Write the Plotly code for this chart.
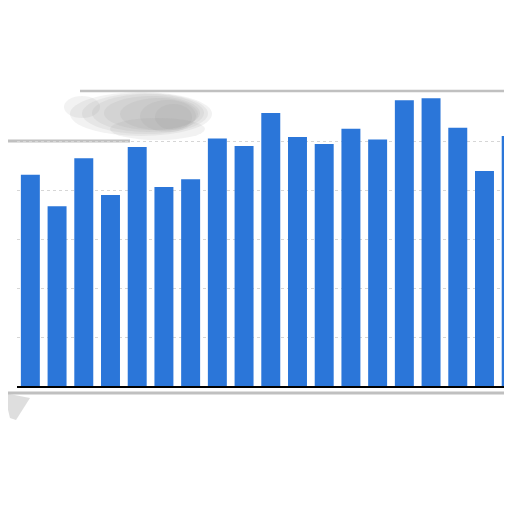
import plotly.graph_objects as go

# values (grid units, 1 unit = one gridline step)
categories = ["2004", "2005", "2006", "2007", "2008", "2009", "2010", "2011", "2012", "2013",
              "2014", "2015", "2016", "2017", "2018", "2019", "2020", "2021", "2022"]
values = [4.31, 3.67, 4.65, 3.90, 4.88, 4.06, 4.22, 5.05, 4.90, 5.57,
          5.08, 4.94, 5.25, 5.03, 5.83, 5.87, 5.27, 4.39, 5.10]

fig = go.Figure()
fig.add_trace(go.Bar(
    x=categories,
    y=values,
    marker=dict(color="#2b76d9", line=dict(width=0)),
    width=0.71,
))


# the page puts an 8px body margin round the figure; decoration is placed
# in paper units worked out from the reference's pixels
def px(x):
    return (x - 17) / 495


def py(y):
    return (386 - y) / 294


edge = "rgba(150,150,150,0.6)"
# grey smudged frame: low on the left, high on the right
for x0, y0, x1, y1, w in [(0, 141, 130, 141, 3), (80, 91, 520, 91, 2.5),
                          (3, 141, 3, 392, 4), (3, 393, 520, 393, 3)]:
    fig.add_shape(type="line", xref="paper", yref="paper",
                  x0=px(x0), y0=py(y0), x1=px(x1), y1=py(y1),
                  line=dict(color=edge, width=w), layer="below")
# blurred blob above the left bars: many faint ellipses stacked so the edge fades
blob = [(64, 96, 100, 118), (70, 92, 212, 136), (82, 93, 208, 134), (92, 94, 204, 132),
        (104, 96, 200, 130), (120, 98, 198, 130), (140, 100, 196, 132), (155, 104, 192, 130),
        (110, 118, 205, 140)]
for x0, y0, x1, y1 in blob:
    fig.add_shape(type="circle", xref="paper", yref="paper",
                  x0=px(x0), y0=py(y0), x1=px(x1), y1=py(y1),
                  line=dict(width=0), fillcolor="rgba(150,150,150,0.12)", layer="below")
# small drip at the bottom-left corner
fig.add_shape(type="path", xref="paper", yref="paper",
              path="M {} {} L {} {} L {} {} L {} {} Z".format(
                  px(4), py(393), px(30), py(398), px(16), py(420), px(10), py(418)),
              line=dict(width=0), fillcolor="rgba(195,195,195,0.55)", layer="below")

fig.update_layout(
    width=504, height=480,
    margin=dict(l=9, r=0, t=84, b=102, autoexpand=False),
    paper_bgcolor="white",
    plot_bgcolor="rgba(0,0,0,0)",
    showlegend=False,
    xaxis=dict(
        type="category",
        range=[-0.5, 18.03],
        showticklabels=False,
        showgrid=False,
        showline=True, linecolor="black", linewidth=1.5,
        ticks="",
        automargin=False,
        fixedrange=True,
    ),
    yaxis=dict(
        range=[0, 6],
        dtick=1,
        showticklabels=False,
        showgrid=True, gridcolor="#d6d6d6", griddash="dot", gridwidth=1,
        zeroline=False,
        automargin=False,
        fixedrange=True,
    ),
)

fig.write_html("out.html")
